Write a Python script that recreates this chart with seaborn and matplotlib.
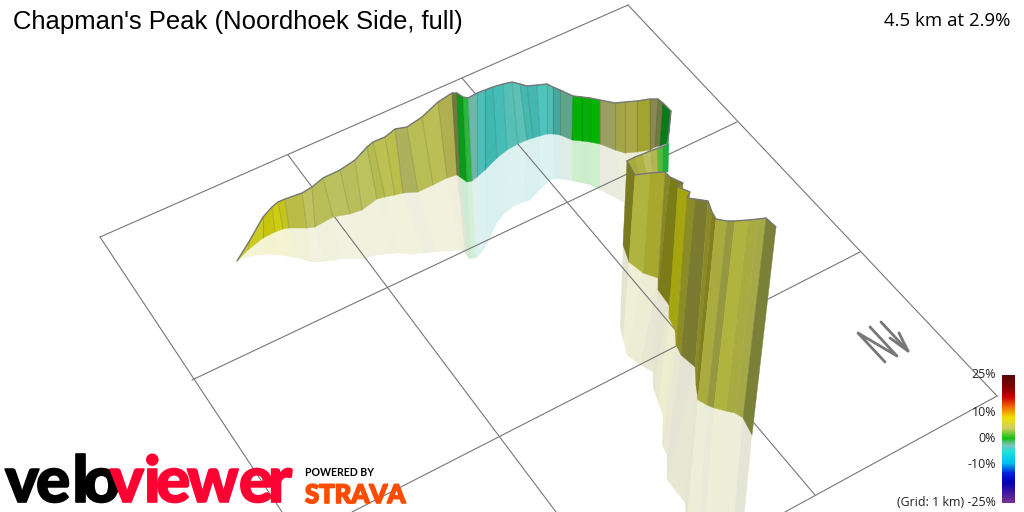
import numpy as np
import matplotlib
matplotlib.use('Agg')
import matplotlib.pyplot as plt
import matplotlib.patheffects as pe
from matplotlib.colors import LinearSegmentedColormap
import seaborn as sns

title = "Chapman's Peak (Noordhoek Side, full)"
summary = '4.5 km at 2.9%'

# Ground grid lines (x pairs, y pairs)
grid_x = [[100, 628], [628, 997], [997, 785], [100, 282], [192, 737], [352, 860], [288, 556], [462, 815]]
grid_y = [[237, 5], [5, 396], [396, 512], [237, 512], [380, 122], [512, 252], [155, 512], [78, 495]]

# Far wall: top edge, foot of the wall and foot of the pale mirror image
far_top_x = [237, 250, 263, 272, 278, 285, 302, 312, 323, 340, 355, 367, 373, 385, 395, 407, 422, 438, 452, 457, 463, 468,
             477, 485, 493, 503, 512, 520, 527, 537, 547, 553, 560, 573, 582, 590, 600, 615, 625, 637, 650, 658, 663, 671]
far_top_y = [261, 240, 217, 207, 202, 199, 193, 187, 178, 170, 160, 147, 142, 137, 129, 127, 117, 102, 93, 93, 97, 98,
             93, 90, 87, 84, 82, 84, 86, 85, 84, 87, 90, 96, 97, 98, 100, 103, 102, 101, 99, 99, 103, 111]
far_base_x = [237, 248, 263, 275, 283, 289, 307, 315, 333, 350, 362, 377, 385, 395, 403, 418, 433, 447, 457, 460, 467, 472,
              477, 485, 497, 507, 518, 527, 533, 540, 547, 553, 560, 572, 582, 590, 600, 615, 625, 637, 650, 655, 660, 668]
far_base_y = [261, 250, 238, 232, 229, 228, 228, 227, 217, 214, 210, 199, 197, 195, 193, 192, 185, 178, 175, 177, 182, 181,
              177, 170, 158, 150, 144, 140, 138, 136, 134, 134, 135, 140, 141, 142, 144, 150, 153, 152, 150, 147, 146, 143]
far_mirror_x = [237, 248, 267, 278, 290, 297, 312, 323, 342, 363, 377, 390, 400, 410, 423, 437, 450, 460, 465, 468, 472, 476,
                478, 485, 497, 505, 513, 522, 530, 540, 550, 555, 560, 572, 582, 590, 600, 623, 630, 637, 645, 650, 655, 660]
far_mirror_y = [261, 257, 254, 255, 257, 258, 262, 262, 259, 259, 255, 254, 253, 255, 253, 252, 251, 250, 253, 258, 259, 258,
                257, 248, 223, 213, 207, 203, 200, 190, 180, 179, 179, 181, 183, 185, 190, 202, 208, 190, 185, 180, 176, 174]
far_colors = ['#c8c83a', '#cccb22', '#c6c40f', '#cfcc14', '#c4c420', '#babc48', '#bfc25e', '#b8bd58', '#bcc160', '#b9be5c',
              '#bcc25e', '#b5bb4e', '#bdc052', '#bcbe4c', '#adb05c', '#b9bd55', '#bbbe55', '#b0b050', '#6f7a3f', '#0c9a1c',
              '#28b83c', '#6fb5a8', '#4cc0b8', '#3fb8b2', '#46bcb8', '#56c0b6', '#5cc2b8', '#45b8b0', '#44b8b0', '#4fc4bc',
              '#50c0b6', '#45a8a0', '#5ea58c', '#00b000', '#08ac08', '#00b400', '#9a9f62', '#a3a548', '#aaa84a', '#a3a430',
              '#8a8a50', '#6f7a40', '#0a7a1a']

# Short piece at the hairpin
bend_top_x = [627, 635, 643, 650, 657, 663, 669]
bend_top_y = [161, 157, 154, 151, 149, 147, 143]
bend_base_x = [635, 640, 647, 652, 658, 663, 668]
bend_base_y = [175, 174.5, 174, 173, 172, 172, 172]
bend_colors = ['#a9ab3a', '#b0b245', '#bcbf60', '#b2b555', '#58b838', '#1cae3c']

# Near wall
near_top_x = [627, 635, 650, 665, 670, 683, 678, 690, 687, 695, 708, 712, 716, 727, 735, 748, 758, 766, 776]
near_top_y = [161, 175, 173, 172, 177, 183, 187, 192, 198, 199, 201, 212, 219, 221, 221, 220, 219, 218, 227]
near_base_x = [623, 629, 643, 658, 658, 669, 669, 675, 676, 681, 695, 696, 698, 707, 714, 726, 735, 743, 752]
near_base_y = [245, 262, 273, 278, 290, 305, 318, 330, 345, 355, 367, 385, 400, 405, 408, 411, 413, 418, 435]
near_mirror_x = [620, 623, 627, 640, 653, 653, 658, 663, 662, 667, 667, 685, 686, 695, 700, 710, 718, 724, 732]
near_mirror_y = [327, 340, 355, 365, 372, 388, 402, 415, 445, 455, 480, 503, 530, 590, 600, 610, 620, 630, 645]
near_colors = ['#7a7a20', '#b0b33e', '#a8a830', '#88882a', '#7b7b18', '#8f8f20', '#a5a510', '#a0a015', '#8c8c25',
               '#7a7a30', '#8a8a28', '#80801e', '#a9ab3e', '#95983f', '#b0b33e', '#a8ab40', '#a6a948', '#7b8038']

# North arrow strokes
north_x = [885, 858, 897, 870]
north_y = [362, 333, 356, 327]
shaft_x = [881, 908]
shaft_y = [322, 351]
north_head_x = [890, 908, 899]
north_head_y = [338, 351, 333]

# Gradient legend
grade_stops = [-25, -17, -13.5, -9.5, -5, -2.5, 0.3, 4.5, 8.5, 12.5, 16.5, 20, 25]
grade_colors = ['#7a3090', '#0000b0', '#0020e0', '#00c0f0', '#20e0e0', '#80c0b8', '#10c010', '#d5cf60', '#f0e000',
                '#f07000', '#d00000', '#8b0000', '#560808']
grade_labels = ['25%', '10%', '0%', '-10%', '(Grid: 1 km) -25%']
grade_label_y = [375, 413, 439, 464, 502]

# Logo letters and where they sit
logo_letters = list('veloviewer')
logo_x = [5, 36, 72, 83, 110, 144, 156, 187, 239, 268]
logo_colors = ['#000000'] * 4 + ['#ff0033'] * 6

line_grey = '#777777'

sns.set_theme(style='white')
plt.rcParams['font.family'] = ['Open Sans', 'DejaVu Sans']

fig = plt.figure(figsize=(10.24, 5.12), dpi=100)
ax = fig.add_axes([0, 0, 1, 1])


def draw_strips(ax, x1, y1, x2, y2, colors, alpha=1.0, zorder=3, seams=False):
    for i, c in enumerate(colors):
        ax.fill([x1[i], x1[i + 1], x2[i + 1], x2[i]], [y1[i], y1[i + 1], y2[i + 1], y2[i]],
                facecolor=c, edgecolor=c if alpha == 1.0 else 'none', linewidth=0.3, alpha=alpha, zorder=zorder)
        if seams:
            ax.plot([x1[i], x2[i]], [y1[i], y2[i]], color='black', alpha=0.12, linewidth=0.8, zorder=zorder)


def draw_line(ax, x, y, width, zorder):
    sns.lineplot(x=x, y=y, sort=False, estimator=None, color=line_grey, linewidth=width, ax=ax, zorder=zorder,
                 legend=False)


# Mirror images go under the grid, the walls over it
draw_strips(ax, far_base_x, far_base_y, far_mirror_x, far_mirror_y, far_colors, alpha=0.2, zorder=1)
draw_strips(ax, near_base_x, near_base_y, near_mirror_x, near_mirror_y, near_colors, alpha=0.2, zorder=1)

for gx, gy in zip(grid_x, grid_y):
    draw_line(ax, gx, gy, 0.8, 2)

draw_strips(ax, far_top_x, far_top_y, far_base_x, far_base_y, far_colors, zorder=3, seams=True)
draw_line(ax, far_top_x, far_top_y, 1.0, 4)
draw_strips(ax, bend_top_x, bend_top_y, bend_base_x, bend_base_y, bend_colors, zorder=5)
draw_line(ax, [671, 669, 667] + bend_top_x[3::-1], [111, 132, 145] + bend_top_y[3::-1], 1.0, 6)
draw_strips(ax, near_top_x, near_top_y, near_base_x, near_base_y, near_colors, zorder=7)
draw_line(ax, near_top_x, near_top_y, 1.0, 8)

draw_line(ax, north_x, north_y, 2.0, 4)
draw_line(ax, shaft_x, shaft_y, 2.0, 4)
draw_line(ax, north_head_x, north_head_y, 2.0, 4)

# Titles
ax.text(13, 29, title, fontsize=18.45, family='Liberation Sans', color='black', zorder=10)
ax.text(1010, 26, summary, fontsize=13.4, ha='right', color='black', zorder=10)

for label, y in zip(grade_labels, grade_label_y):
    ax.text(996, y, label, fontsize=8.95, ha='right', va='center', color='#222222', zorder=10)

# Logos
for letter, x, c in zip(logo_letters, logo_x, logo_colors):
    ax.text(x, 502, letter, fontsize=46, family='Lato', fontweight='black', color=c, zorder=10,
            path_effects=[pe.withStroke(linewidth=1.2, foreground=c)])
ax.text(305, 476, 'POWERED BY', fontsize=7.6, family='Lato', fontweight='bold', color='black', zorder=10)
ax.text(305, 503, 'STRAVA', fontsize=18.5, family='Lato', fontweight='black', color='#fc4c02', zorder=10,
        path_effects=[pe.withStroke(linewidth=1.2, foreground='#fc4c02')])

ax.set_xlim(0, 1024)
ax.set_ylim(512, 0)
ax.axis('off')

# Gradient bar as a one column heatmap
cax = fig.add_axes([1002 / 1024, 1 - 503 / 512, 13 / 1024, 128 / 512])
stops = [(g + 25) / 50 for g in grade_stops]
grade_cmap = LinearSegmentedColormap.from_list('grade', list(zip(stops, grade_colors)))
grades = np.linspace(25, -25, 128).reshape(-1, 1)
sns.heatmap(grades, cmap=grade_cmap, vmin=-25, vmax=25, cbar=False, xticklabels=False, yticklabels=False, ax=cax)

fig.savefig('out.png', dpi=100)
